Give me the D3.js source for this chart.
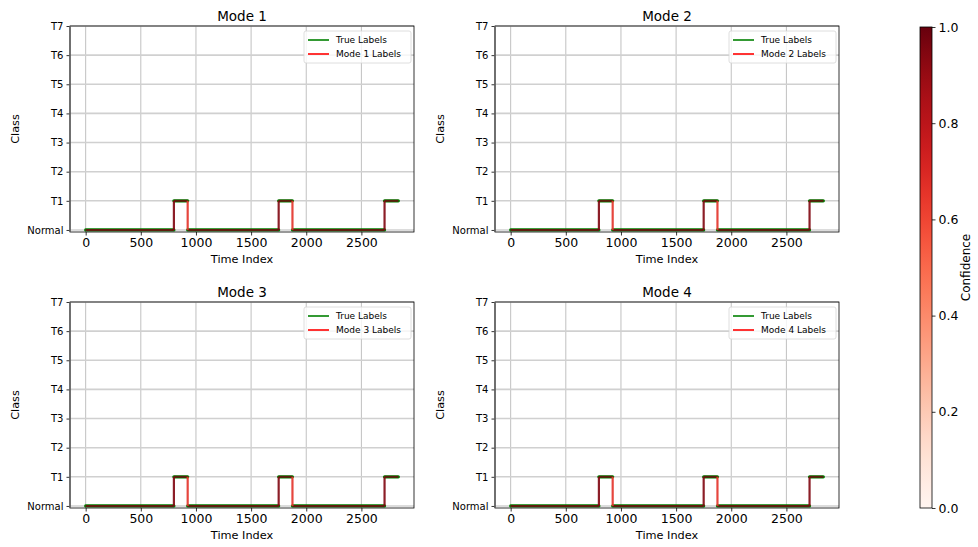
<!DOCTYPE html>
<html>
<head>
<meta charset="utf-8">
<script src="https://cdn.jsdelivr.net/npm/d3@7"></script>
<style>
  body { margin: 0; background: #fff; }
  text { font-family: "DejaVu Sans", sans-serif; fill: #000; }
</style>
</head>
<body>
<script>
// data
var modes = ["Mode 1", "Mode 2", "Mode 3", "Mode 4"];
var classNames = ["Normal", "T1", "T2", "T3", "T4", "T5", "T6", "T7"];
var xTicks = [0, 500, 1000, 1500, 2000, 2500];
var cbTicks = [0, 0.2, 0.4, 0.6, 0.8, 1.0];

// label runs: change points and the class of each run
var changePoints = [0, 800, 925, 1750, 1875, 2710, 2835];
var trueClass = [0, 1, 0, 1, 0, 1];
var predClass = [
  [0, 1, 0, 1, 0, 1],
  [0, 1, 0, 1, 0, 1],
  [0, 1, 0, 1, 0, 1],
  [0, 1, 0, 1, 0, 1]
];
// confidence along each run, and at each jump
var runConf = [
  [0.97, 0.98, 0.97, 0.98, 0.97, 0.98],
  [0.97, 0.98, 0.97, 0.98, 0.97, 0.98],
  [0.97, 0.98, 0.97, 0.98, 0.97, 0.98],
  [0.97, 0.98, 0.97, 0.98, 0.97, 0.98]
];
var jumpConf = [
  [0.95, 0.66, 0.95, 0.66, 0.95],
  [0.95, 0.66, 0.95, 0.66, 0.95],
  [0.95, 0.66, 0.95, 0.66, 0.95],
  [0.95, 0.66, 0.95, 0.66, 0.95]
];

var width = 978, height = 547;
var svg = d3.select("body").append("svg")
    .attr("width", width)
    .attr("height", height);

var color = d3.scaleSequential(d3.interpolateReds).domain([0, 1]);

// panel boxes: left, top
var panelW = 344, panelH = 206;
var panels = [
  {x: 70, y: 26}, {x: 495, y: 26},
  {x: 70, y: 302}, {x: 495, y: 302}
];

modes.forEach(function(name, m) {
  var p = panels[m];
  var g = svg.append("g").attr("transform", "translate(" + p.x + "," + p.y + ")");

  var x = d3.scaleLinear().domain([-142, 2977]).range([0, panelW]);
  var y = d3.scaleLinear().domain([-0.07, 7]).range([panelH, 0]);

  // grid
  g.selectAll(".vg").data(xTicks).enter().append("line")
      .attr("x1", d => x(d)).attr("x2", d => x(d))
      .attr("y1", 0).attr("y2", panelH)
      .attr("stroke", "#b0b0b0").attr("stroke-width", 0.8);
  g.selectAll(".hg").data(d3.range(classNames.length)).enter().append("line")
      .attr("x1", 0).attr("x2", panelW)
      .attr("y1", d => y(d)).attr("y2", d => y(d))
      .attr("stroke", "#d0d0d0").attr("stroke-width", 1.6);

  // true labels: flat runs in green
  var runs = d3.range(trueClass.length);
  g.selectAll(".tl").data(runs).enter().append("line")
      .attr("x1", i => x(changePoints[i])).attr("x2", i => x(changePoints[i + 1]))
      .attr("y1", i => y(trueClass[i])).attr("y2", i => y(trueClass[i]))
      .attr("stroke", "#008000").attr("stroke-width", 3.2)
      .attr("stroke-linecap", "round");

  // predicted labels, coloured by confidence
  g.selectAll(".pr").data(runs).enter().append("line")
      .attr("x1", i => x(changePoints[i])).attr("x2", i => x(changePoints[i + 1]))
      .attr("y1", i => y(predClass[m][i])).attr("y2", i => y(predClass[m][i]))
      .attr("stroke", i => color(runConf[m][i])).attr("stroke-width", 2)
      .attr("stroke-opacity", 0.8);
  g.selectAll(".pj").data(d3.range(1, trueClass.length)).enter().append("line")
      .attr("x1", i => x(changePoints[i])).attr("x2", i => x(changePoints[i]))
      .attr("y1", i => y(predClass[m][i - 1])).attr("y2", i => y(predClass[m][i]))
      .attr("stroke", i => color(jumpConf[m][i - 1])).attr("stroke-width", 2.2)
      .attr("stroke-opacity", 0.9);

  // axes
  var xAxis = g.append("g").attr("transform", "translate(0," + panelH + ")")
      .call(d3.axisBottom(x).tickValues(xTicks).tickFormat(d3.format("d"))
        .tickSize(3.5).tickPadding(3));
  var yAxis = g.append("g")
      .call(d3.axisLeft(y).tickValues(d3.range(classNames.length))
        .tickFormat(d => classNames[d]).tickSize(3.5).tickPadding(3));
  [xAxis, yAxis].forEach(function(a) {
    a.select(".domain").remove();
    a.selectAll("line").attr("stroke", "#000").attr("stroke-width", 0.8);
    a.selectAll("text").style("font-family", "DejaVu Sans, sans-serif");
  });
  xAxis.selectAll("text").style("font-size", "12.5px");
  yAxis.selectAll("text").style("font-size", "10px");
  g.append("rect").attr("width", panelW).attr("height", panelH)
      .attr("fill", "none").attr("stroke", "#000").attr("stroke-width", 0.8);
  g.append("line").attr("x1", 0).attr("x2", 0).attr("y1", 0).attr("y2", panelH)
      .attr("stroke", "#666").attr("stroke-width", 1.6);

  g.append("text").attr("x", panelW / 2).attr("y", -5)
      .attr("text-anchor", "middle").style("font-size", "13.5px").text(name);
  g.append("text").attr("x", panelW / 2).attr("y", panelH + 31)
      .attr("text-anchor", "middle").style("font-size", "11.3px").text("Time Index");
  g.append("text")
      .attr("transform", "translate(-51," + (panelH / 2) + ") rotate(-90)")
      .attr("text-anchor", "middle").style("font-size", "11.3px").text("Class");

  // legend
  var lg = g.append("g").attr("transform", "translate(" + (panelW - 110) + ",5)");
  lg.append("rect").attr("width", 107).attr("height", 32).attr("rx", 2)
      .attr("fill", "#fff").attr("fill-opacity", 0.8)
      .attr("stroke", "#d6d6d6").attr("stroke-width", 0.8);
  var items = [{label: "True Labels", c: "#008000"}, {label: name + " Labels", c: "#ff0000"}];
  items.forEach(function(it, k) {
    var yy = 9 + k * 14;
    lg.append("line").attr("x1", 4).attr("x2", 25).attr("y1", yy).attr("y2", yy)
        .attr("stroke", it.c).attr("stroke-width", 1.6);
    lg.append("text").attr("x", 32).attr("y", yy + 3.2)
        .style("font-size", "9px").text(it.label);
  });
});

// colorbar
var cbX = 920, cbY = 27, cbW = 12, cbH = 481;
var defs = svg.append("defs");
var grad = defs.append("linearGradient").attr("id", "cbgrad")
    .attr("x1", "0").attr("y1", "1").attr("x2", "0").attr("y2", "0");
d3.range(0, 1.001, 0.05).forEach(function(t) {
  grad.append("stop").attr("offset", t).attr("stop-color", color(t));
});
svg.append("rect").attr("x", cbX).attr("y", cbY).attr("width", cbW).attr("height", cbH)
    .attr("fill", "url(#cbgrad)").attr("stroke", "#000").attr("stroke-width", 0.8);
var cbScale = d3.scaleLinear().domain([0, 1]).range([cbY + cbH, cbY]);
var cbAxis = svg.append("g").attr("transform", "translate(" + (cbX + cbW) + ",0)")
    .call(d3.axisRight(cbScale).tickValues(cbTicks).tickFormat(d3.format(".1f"))
      .tickSize(3.5).tickPadding(3));
cbAxis.select(".domain").remove();
cbAxis.selectAll("text").style("font-family", "DejaVu Sans, sans-serif").style("font-size", "12.5px");
cbAxis.selectAll("line").attr("stroke", "#000").attr("stroke-width", 0.8);
svg.append("text")
    .attr("transform", "translate(970," + (cbY + cbH / 2) + ") rotate(-90)")
    .attr("text-anchor", "middle").style("font-size", "12px").text("Confidence");
</script>
</body>
</html>
